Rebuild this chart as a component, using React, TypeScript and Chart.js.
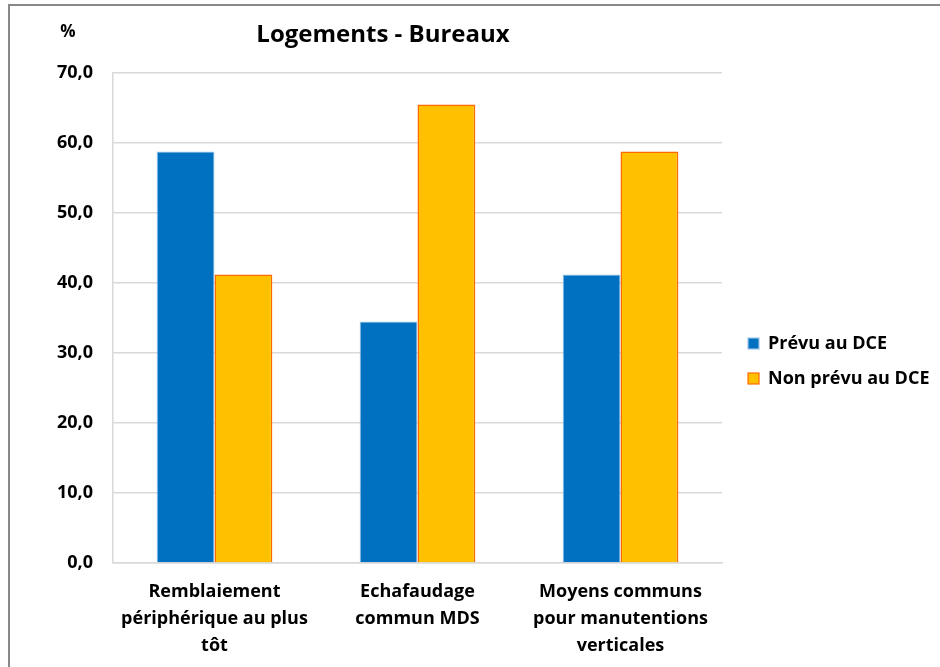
import React, { useEffect, useRef } from "react";
import { Chart, registerables } from "chart.js";

Chart.register(...registerables);

const categories: string[][] = [
  ["Remblaiement", "périphérique au plus", "tôt"],
  ["Echafaudage", "commun MDS"],
  ["Moyens communs", "pour manutentions", "verticales"],
];
const prevu: number[] = [58.8, 34.5, 41.2];
const nonPrevu: number[] = [41.2, 65.5, 58.8];
const seriesNames: string[] = ["Prévu au DCE", "Non prévu au DCE"];
const chartTitle = "Logements - Bureaux";
const unitLabel = "%";

const FONT = "'Open Sans', 'Noto Sans', sans-serif";

const overlayPlugin = {
  id: "overlay",
  afterDraw(chart: any) {
    const ctx = chart.ctx;
    ctx.save();
    ctx.fillStyle = "#000";
    ctx.textBaseline = "middle";
    ctx.font = `bold 17px ${FONT}`;
    ctx.textAlign = "center";
    ctx.fillText(unitLabel, 68, 32);
    ctx.font = `bold 24px ${FONT}`;
    ctx.fillText(chartTitle, 383, 35);
    // legend
    const items = [
      { fill: "#0070C0", stroke: "#9DC3E6", y: 343 },
      { fill: "#FFC000", stroke: "#FF6A00", y: 378 },
    ];
    ctx.textAlign = "left";
    ctx.font = `bold 18px ${FONT}`;
    items.forEach((it, i) => {
      ctx.fillStyle = it.fill;
      ctx.fillRect(748, it.y - 5, 11, 11);
      ctx.strokeStyle = it.stroke;
      ctx.lineWidth = 1.2;
      ctx.strokeRect(748, it.y - 5, 11, 11);
      ctx.fillStyle = "#000";
      ctx.fillText(seriesNames[i], 768, it.y + 1);
    });
    ctx.restore();
  },
};

export default function App() {
  const ref = useRef<HTMLCanvasElement>(null);
  useEffect(() => {
    if (!ref.current) return;
    const chart = new Chart(ref.current, {
      type: "bar",
      data: {
        labels: categories,
        datasets: [
          {
            label: seriesNames[0],
            data: prevu,
            backgroundColor: "#0070C0",
            borderColor: "#9DC3E6",
            borderWidth: 1,
          },
          {
            label: seriesNames[1],
            data: nonPrevu,
            backgroundColor: "#FFC000",
            borderColor: "#FF6A00",
            borderWidth: 1.5,
          },
        ],
      },
      options: {
        responsive: false,
        animation: false,
        devicePixelRatio: 1,
        layout: { padding: { left: 0, right: 218, top: 73, bottom: 0 } },
        datasets: { bar: { categoryPercentage: 0.57, barPercentage: 1 } },
        plugins: {
          legend: { display: false },
          title: { display: false },
          tooltip: { enabled: false },
        },
        scales: {
          x: {
            afterFit: (axis: any) => {
              axis.height = 104;
            },
            grid: { display: false, drawTicks: false },
            border: { display: true, color: "#d9d9d9", width: 1.5 },
            ticks: {
              color: "#000",
              font: { family: FONT, size: 18, weight: "bold", lineHeight: 1.5 },
              padding: 15,
              maxRotation: 0,
              autoSkip: false,
            },
          },
          y: {
            min: 0,
            max: 70,
            afterFit: (axis: any) => {
              axis.width = 113;
            },
            grid: { color: "#d9d9d9", lineWidth: 1.5, drawTicks: false },
            border: { display: true, color: "#d9d9d9", width: 1.5 },
            ticks: {
              stepSize: 10,
              color: "#000",
              padding: 20,
              font: { family: FONT, size: 18, weight: "bold" },
              callback: (v: any) => Number(v).toFixed(1).replace(".", ","),
            },
          },
        },
      },
      plugins: [overlayPlugin],
    });
    return () => chart.destroy();
  }, []);
  return (
    <div style={{ position: "fixed", left: 0, top: 0, width: 940, height: 667, background: "#fff" }}>
      <canvas ref={ref} width={940} height={667} style={{ position: "absolute", left: 0, top: 0 }} />
      <div
        style={{
          position: "absolute",
          left: 8,
          top: 4,
          right: 0,
          bottom: 0,
          borderTop: "2px solid #888",
          borderLeft: "2px solid #888",
          pointerEvents: "none",
        }}
      />
    </div>
  );
}
